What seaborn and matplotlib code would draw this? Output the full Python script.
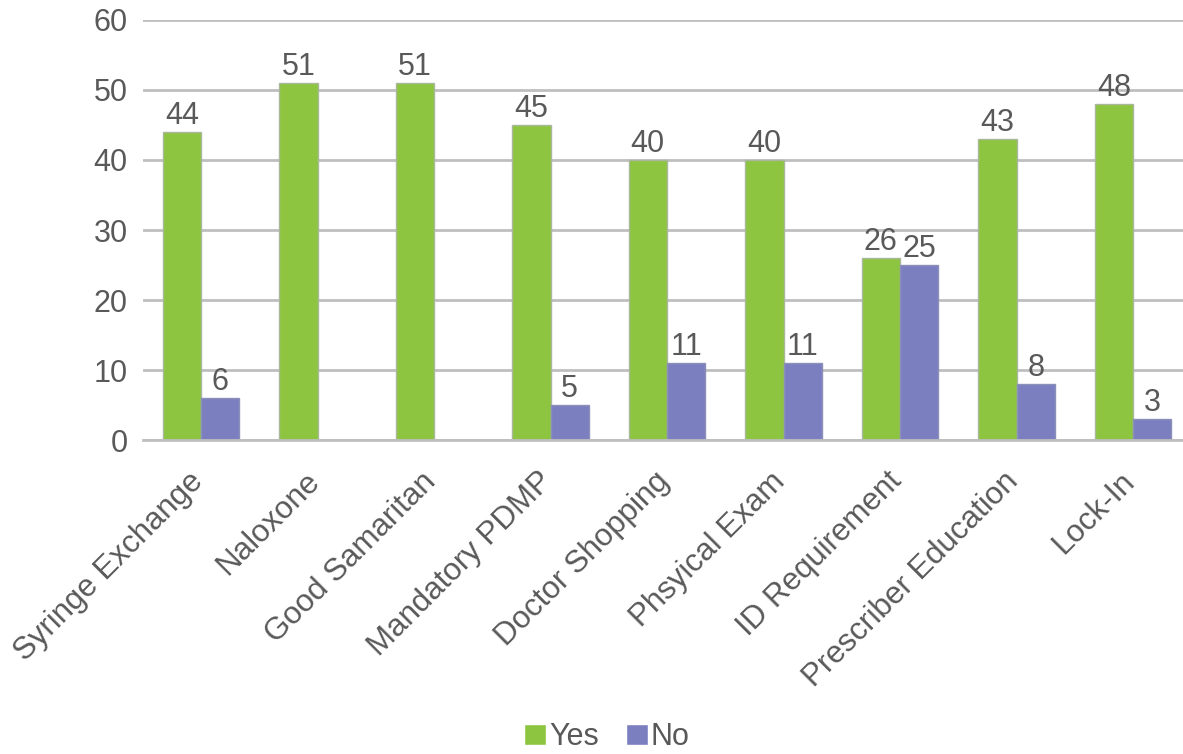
import matplotlib
matplotlib.use("Agg")
import matplotlib.pyplot as plt
import matplotlib.transforms as mtransforms
import seaborn as sns
import pandas as pd

categories = ["Syringe Exchange", "Naloxone", "Good Samaritan", "Mandatory PDMP",
              "Doctor Shopping", "Phsyical Exam", "ID Requirement",
              "Prescriber Education", "Lock-In"]
yes_values = [44, 51, 51, 45, 40, 40, 26, 43, 48]
no_values = [6, 0, 0, 5, 11, 11, 25, 8, 3]
series_names = ["Yes", "No"]
y_ticks = [0, 10, 20, 30, 40, 50, 60]

df = pd.DataFrame({
    "category": categories * 2,
    "value": yes_values + no_values,
    "series": ["Yes"] * len(categories) + ["No"] * len(categories),
})

sns.set_theme(style="white")
plt.rcParams["font.family"] = ["Liberation Sans", "DejaVu Sans"]
text_color = "#595959"
fs = 22

fig = plt.figure(figsize=(11.83, 7.54), dpi=100)
ax = fig.add_axes([0.1207, 0.4164, 0.8863, 0.5571])

palette = {"Yes": "#8DC540", "No": "#7B7FC0"}
sns.barplot(data=df, x="category", y="value", hue="series", hue_order=series_names,
            palette=palette, width=0.66, ax=ax, legend=True, saturation=1)

for cont, name in zip(ax.containers, series_names):
    for p in cont:
        p.set_edgecolor("#A9B89A" if name == "Yes" else "#8C8FB8")
        p.set_linewidth(1)
    labels = [f"{int(v)}" if v > 0 else "" for v in cont.datavalues]
    ax.bar_label(cont, labels=labels, padding=1, fontsize=fs, color=text_color)

ax.set_ylim(0, 60)
ax.set_xlim(-0.5, len(categories) - 0.5)
ax.set_yticks(y_ticks)
ax.yaxis.grid(True, color="#BFBFBF", linewidth=2)
ax.set_axisbelow(True)
for s in ["top", "right", "left"]:
    ax.spines[s].set_visible(False)
ax.spines["bottom"].set_color("#BFBFBF")
ax.spines["bottom"].set_linewidth(2)
ax.set_xlabel("")
ax.set_ylabel("")
ax.tick_params(axis="y", labelsize=fs, labelcolor=text_color, length=0, pad=11)
ax.tick_params(axis="x", labelsize=22.5, labelcolor=text_color, length=0, pad=19)
offset = mtransforms.ScaledTranslation(8 / 100, 0, fig.dpi_scale_trans)
for lab in ax.get_xticklabels():
    lab.set_rotation(45)
    lab.set_ha("right")
    lab.set_transform(lab.get_transform() + offset)

handles, labs = ax.get_legend_handles_labels()
ax.legend(handles, labs, loc="center", bbox_to_anchor=(607 / 1183, 0.0225),
          bbox_transform=fig.transFigure, ncol=2, frameon=False, fontsize=fs,
          labelcolor=text_color, handlelength=0.7, handleheight=0.7,
          handletextpad=0.1, columnspacing=0.9)

fig.savefig("out.png", dpi=100, facecolor="white")
